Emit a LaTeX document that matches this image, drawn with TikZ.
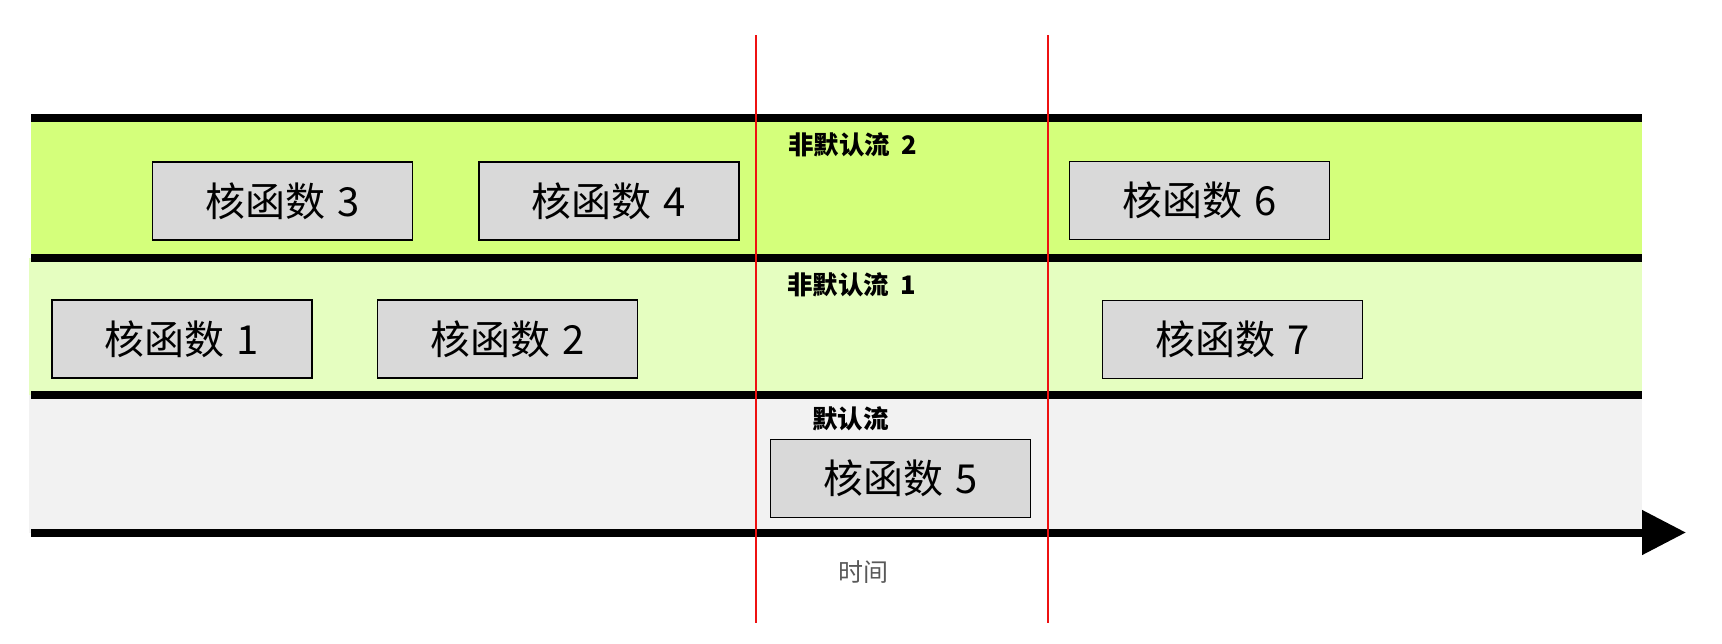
\documentclass[tikz,border=0pt]{standalone}
\usepackage{fontspec}
\newfontfamily\cjk{Noto Sans CJK SC}
\usetikzlibrary{arrows.meta}
\definecolor{limeA}{HTML}{D4FF7B}
\definecolor{limeB}{HTML}{E5FEC0}
\definecolor{grayC}{HTML}{F2F2F2}
\definecolor{boxfill}{HTML}{D9D9D9}
\definecolor{redline}{HTML}{EE1111}
\definecolor{timegray}{HTML}{595959}
\tikzset{
  kernel/.style={draw=black, line width=1.5pt, fill=boxfill, minimum width=260pt, minimum height=78pt, inner sep=0pt, font=\cjk\fontsize{40}{44}\selectfont},
  streamlabel/.style={anchor=west, inner sep=0pt, font=\cjk\bfseries\fontsize{25.5}{28}\selectfont},
  bar/.style={line width=8pt},
  marker/.style={draw=redline, line width=2.6pt},
}
\begin{document}
\begin{tikzpicture}[x=1pt,y=-1pt]
\useasboundingbox (0,0) rectangle (1722,643);
% bands
\fill[limeA] (31,117.5) rectangle (1642,257.5);
\fill[limeB] (29,257.5) rectangle (1642,395);
\fill[grayC] (29,395) rectangle (1642,532.5);
% stream separators
\coordinate (b1L) at (31,117.5); \coordinate (b1R) at (1642,117.5);
\coordinate (b2L) at (31,257.5); \coordinate (b2R) at (1642,257.5);
\coordinate (b3L) at (31,395); \coordinate (b3R) at (1642,395);
\coordinate (axL) at (31,532.5); \coordinate (axR) at (1686,532.5);
\draw[bar] (b1L) -- (b1R);
\draw[bar] (b2L) -- (b2R);
\draw[bar] (b3L) -- (b3R);
\draw[bar, -{Triangle[length=44pt,width=43pt]}] (axL) -- (axR);
% kernels
\node[kernel] (k3) at (282.7,201) {核函数\hspace{0.3em}3};
\node[kernel] (k4) at (609,201) {核函数\hspace{0.3em}4};
\node[kernel] (k6) at (1199.5,200.5) {核函数\hspace{0.3em}6};
\node[kernel] (k1) at (182,339) {核函数\hspace{0.3em}1};
\node[kernel] (k2) at (507.7,339) {核函数\hspace{0.3em}2};
\node[kernel] (k7) at (1232.7,339.5) {核函数\hspace{0.3em}7};
\node[kernel] (k5) at (900.5,478.5) {核函数\hspace{0.3em}5};
% labels
\node[streamlabel] (s2) at (788,145) {非默认流\hspace{0.45em}2};
\node[streamlabel] (s1) at (787,284.5) {非默认流\hspace{0.45em}1};
\node[streamlabel] (s0) at (812,419) {默认流};
\node[font=\cjk\fontsize{25}{28}\selectfont, text=timegray, inner sep=0pt] (time) at (863,572.5) {时间};
% markers
\coordinate (m1T) at (756,35); \coordinate (m1B) at (756,623);
\coordinate (m2T) at (1048,35); \coordinate (m2B) at (1048,623);
\draw[marker] (m1T) -- (m1B);
\draw[marker] (m2T) -- (m2B);
\end{tikzpicture}
\end{document}
